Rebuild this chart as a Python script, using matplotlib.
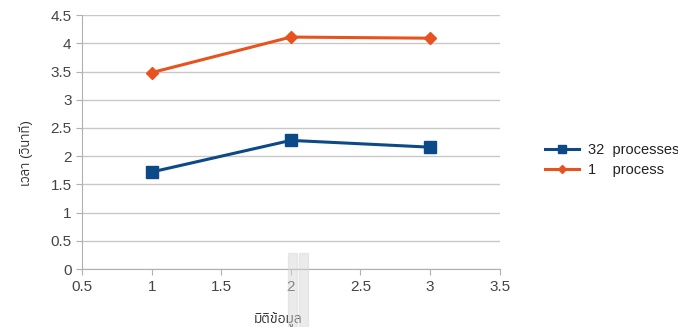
import matplotlib
matplotlib.use("Agg")
import matplotlib.pyplot as plt
from matplotlib import font_manager
from matplotlib.patches import Rectangle

dims = [1, 2, 3]
t_32 = [1.72, 2.28, 2.16]
t_1 = [3.48, 4.11, 4.09]
labels = ["32  processes", "1    process"]

# pick a font that carries Thai glyphs, if any is installed
thai = []
for f in font_manager.fontManager.ttflist:
    try:
        ft = matplotlib.ft2font.FT2Font(f.fname)
        if 0x0E21 in ft.get_charmap():
            thai.append(f.name)
    except Exception:
        pass
plt.rcParams['font.family'] = ['Liberation Sans'] + sorted(set(thai))[:1] + ['DejaVu Sans']

fig = plt.figure(figsize=(6.78, 3.27), dpi=100)
ax = fig.add_axes([0.121, 0.177, 0.616, 0.777])

ax.plot(dims, t_32, color="#0b4a86", lw=2.2, marker="s", ms=8, label=labels[0])
ax.plot(dims, t_1, color="#e8521f", lw=2.2, marker="D", ms=6, label=labels[1])

ax.set_xlim(0.5, 3.5)
ax.set_ylim(0, 4.5)
ax.set_xticks([0.5, 1, 1.5, 2, 2.5, 3, 3.5])
ax.set_xticklabels(["0.5", "1", "1.5", "2", "2.5", "3", "3.5"])
ax.set_yticks([i * 0.5 for i in range(10)])
ax.set_yticklabels(["0", "0.5", "1", "1.5", "2", "2.5", "3", "3.5", "4", "4.5"])
ax.yaxis.grid(True, color="#c8c8c8", lw=1)
ax.set_axisbelow(True)
for s in ["top", "right"]:
    ax.spines[s].set_visible(False)
for s in ["left", "bottom"]:
    ax.spines[s].set_color("#b0b0b0")
ax.tick_params(colors="#b0b0b0", labelcolor="#444444", labelsize=11, length=4)

ax.set_ylabel("เวลา (วินาที)", fontsize=9.5, color="#333333", va="center")
ax.yaxis.set_label_coords(-0.134, 0.457)
ax.set_xlabel("มิติข้อมูล", fontsize=10, color="#333333", fontweight="bold", va="center")
ax.xaxis.set_label_coords(0.469, -0.197)

ax.legend(loc="center left", bbox_to_anchor=(538 / 678, 1 - 160 / 327),
          bbox_transform=fig.transFigure, frameon=False, borderpad=0,
          fontsize=10.5, handlelength=2.3, handletextpad=0.6, labelspacing=0.45,
          markerscale=0.65, labelcolor="#222222")

# grey strips near the x label, laid over the text
for x0 in (288, 299):
    fig.patches.append(Rectangle((x0 / 678, 0), 9 / 678, 74 / 327, transform=fig.transFigure,
                                 color="#d4d4d4", alpha=0.45, zorder=5))

fig.savefig("out.png", dpi=100)
